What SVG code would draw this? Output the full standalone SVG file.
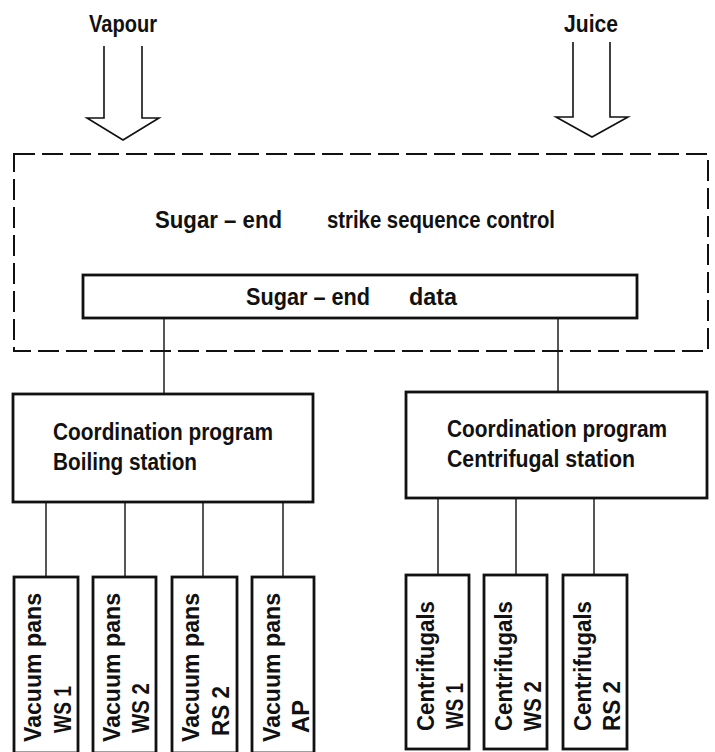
<svg xmlns="http://www.w3.org/2000/svg" width="715" height="752" viewBox="0 0 715 752">
<style>
text{font-family:"Liberation Sans",Arial,sans-serif;font-weight:bold;font-size:23.5px;fill:#111}
.v{font-size:24px}
.box{fill:#fff;stroke:#111;stroke-width:2.8}
.dash{fill:none;stroke:#111;stroke-width:2;stroke-dasharray:21 7}
.ln{fill:none;stroke:#111;stroke-width:1.4}
.arr{fill:none;stroke:#111;stroke-width:1.6;stroke-linejoin:miter}
</style>
<rect width="715" height="752" fill="#fff"/>
<g id="inputs">
<text x="89" y="32" textLength="68" lengthAdjust="spacingAndGlyphs">Vapour</text>
<path class="arr" d="M104,46 V118 H87 L123,140 L159,118 H142 V46"/>
<text x="564" y="32" textLength="54" lengthAdjust="spacingAndGlyphs">Juice</text>
<path class="arr" d="M573,42 V117 H556 L592,137 L628,117 H610 V42"/>
</g>
<g id="connectors">
<path class="ln" d="M164,318 V394 M558,318 V392 M46,502 V577 M125,502 V577 M203,502 V577 M283,502 V577 M438,498 V575 M516,498 V575 M594,498 V575"/>
</g>
<g id="strike-control">
<rect class="dash" x="14" y="154" width="694" height="197"/>
<text x="155" y="228" textLength="127" lengthAdjust="spacingAndGlyphs">Sugar – end</text>
<text x="327" y="228" textLength="228" lengthAdjust="spacingAndGlyphs">strike sequence control</text>
</g>
<g id="data">
<rect class="box" x="83" y="275" width="554" height="43"/>
<text x="246" y="305" textLength="124" lengthAdjust="spacingAndGlyphs">Sugar – end</text>
<text x="409" y="305" textLength="48" lengthAdjust="spacingAndGlyphs">data</text>
</g>
<g id="boiling">
<rect class="box" x="13" y="394" width="300" height="108"/>
<text x="53" y="440" textLength="220" lengthAdjust="spacingAndGlyphs">Coordination program</text>
<text x="53" y="470" textLength="144" lengthAdjust="spacingAndGlyphs">Boiling station</text>
</g>
<g id="centrifugal">
<rect class="box" x="406" y="392" width="301" height="106"/>
<text x="447" y="437" textLength="220" lengthAdjust="spacingAndGlyphs">Coordination program</text>
<text x="447" y="467" textLength="188" lengthAdjust="spacingAndGlyphs">Centrifugal station</text>
</g>
<g id="vp-ws1">
<rect class="box" x="14" y="577" width="64" height="176"/>
<text class="v" transform="translate(41,742) rotate(-90)" textLength="149" lengthAdjust="spacingAndGlyphs">Vacuum pans</text>
<text class="v" transform="translate(71,733) rotate(-90)" textLength="47" lengthAdjust="spacingAndGlyphs">WS 1</text>
</g>
<g id="vp-ws2">
<rect class="box" x="93" y="577" width="63" height="176"/>
<text class="v" transform="translate(120,742) rotate(-90)" textLength="149" lengthAdjust="spacingAndGlyphs">Vacuum pans</text>
<text class="v" transform="translate(149,733) rotate(-90)" textLength="50" lengthAdjust="spacingAndGlyphs">WS 2</text>
</g>
<g id="vp-rs2">
<rect class="box" x="172" y="577" width="65" height="176"/>
<text class="v" transform="translate(199,742) rotate(-90)" textLength="149" lengthAdjust="spacingAndGlyphs">Vacuum pans</text>
<text class="v" transform="translate(229,736) rotate(-90)" textLength="50" lengthAdjust="spacingAndGlyphs">RS 2</text>
</g>
<g id="vp-ap">
<rect class="box" x="252" y="577" width="62" height="176"/>
<text class="v" transform="translate(280,742) rotate(-90)" textLength="149" lengthAdjust="spacingAndGlyphs">Vacuum pans</text>
<text class="v" transform="translate(309,733) rotate(-90)" textLength="33" lengthAdjust="spacingAndGlyphs">AP</text>
</g>
<g id="cf-ws1">
<rect class="box" x="406" y="575" width="63" height="174"/>
<text class="v" transform="translate(434,731) rotate(-90)" textLength="130" lengthAdjust="spacingAndGlyphs">Centrifugals</text>
<text class="v" transform="translate(463,729) rotate(-90)" textLength="46" lengthAdjust="spacingAndGlyphs">WS 1</text>
</g>
<g id="cf-ws2">
<rect class="box" x="484" y="575" width="63" height="174"/>
<text class="v" transform="translate(512,731) rotate(-90)" textLength="130" lengthAdjust="spacingAndGlyphs">Centrifugals</text>
<text class="v" transform="translate(541,731) rotate(-90)" textLength="50" lengthAdjust="spacingAndGlyphs">WS 2</text>
</g>
<g id="cf-rs2">
<rect class="box" x="563" y="575" width="64" height="174"/>
<text class="v" transform="translate(591,731) rotate(-90)" textLength="130" lengthAdjust="spacingAndGlyphs">Centrifugals</text>
<text class="v" transform="translate(620,731) rotate(-90)" textLength="50" lengthAdjust="spacingAndGlyphs">RS 2</text>
</g>
</svg>
